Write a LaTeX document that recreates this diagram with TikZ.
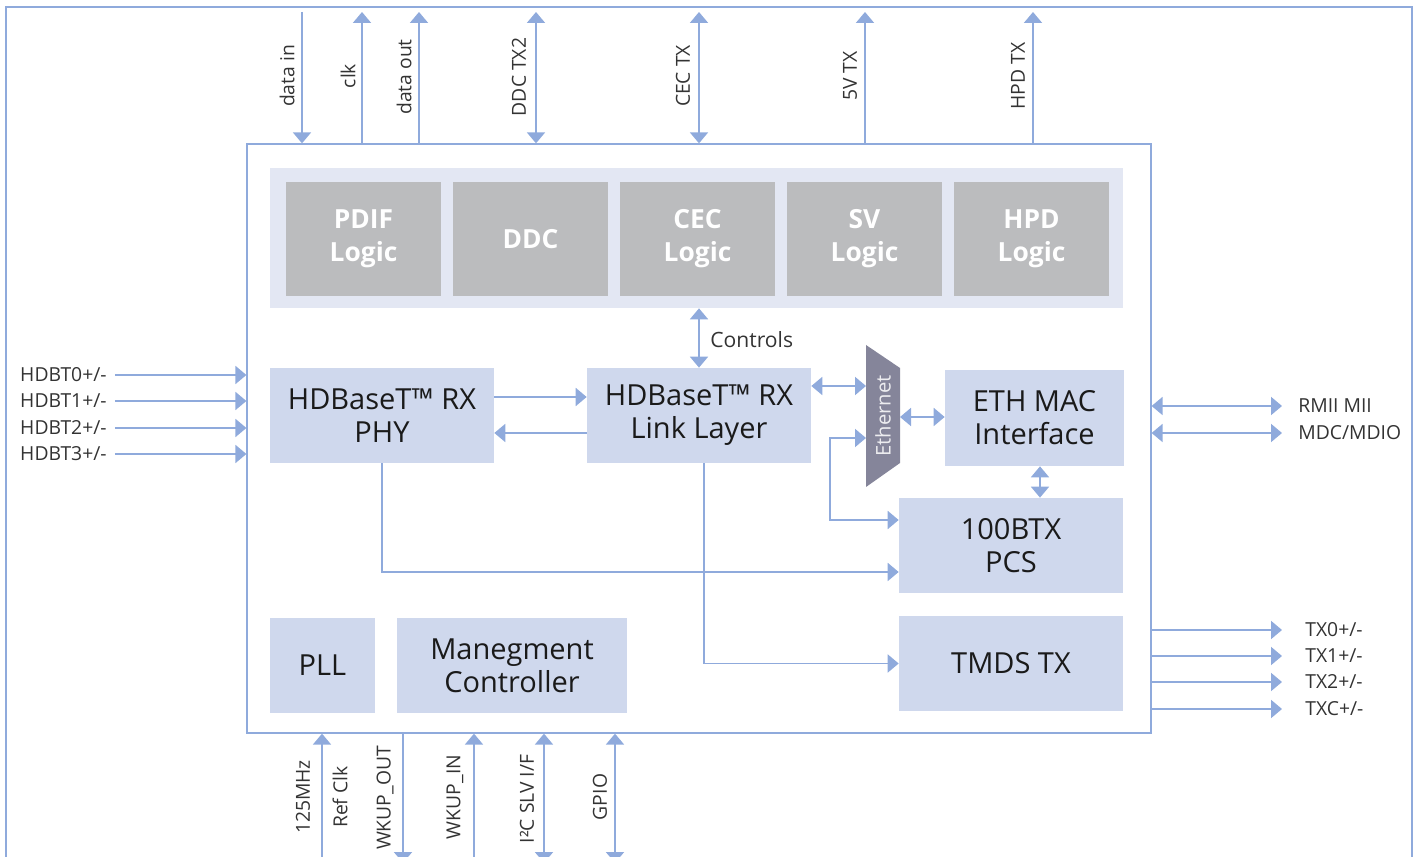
\documentclass[tikz,border=0pt]{standalone}
\usepackage{fontspec}
\setmainfont{Open Sans}
\usetikzlibrary{arrows.meta,calc}
\definecolor{ln}{HTML}{8FAADC}
\definecolor{bxf}{HTML}{CFD8ED}
\definecolor{pnl}{HTML}{E3E7F3}
\definecolor{gry}{HTML}{BBBCBE}
\definecolor{ethc}{HTML}{85859A}
\definecolor{txt}{HTML}{1A1A1A}
\definecolor{lbt}{HTML}{333333}
\tikzset{
 >={Triangle[width=0.36cm,length=0.22cm]},
 arr/.style={draw=ln, line width=1.1pt, ->},
 dbl/.style={draw=ln, line width=1.1pt, <->},
 blk/.style={fill=bxf, text=txt, align=center, inner sep=0, font=\fontsize{16.5}{18.8}\selectfont},
 gblk/.style={fill=gry, text=white, align=center, inner sep=0, minimum width=3.1cm, minimum height=2.28cm, font=\fontsize{15}{18.8}\selectfont\bfseries},
 lbl/.style={text=lbt, inner sep=0, font=\fontsize{11}{13}\selectfont},
}
\begin{document}
\begin{tikzpicture}[x=0.02cm,y=-0.02cm]
\useasboundingbox (0,0) rectangle (1417,857);
% outer frame
\draw[ln, line width=1.1pt] (6,870) -- (6,7) -- (1412,7) -- (1412,870);
% chip
\node[draw=ln, line width=0.8pt, inner sep=0, minimum width=18.08cm, minimum height=11.78cm] (chip) at (699,438.5) {};
% top panel
\node[fill=pnl, inner sep=0, minimum width=17.06cm, minimum height=2.8cm] (panel) at (696.5,238) {};
\node[gblk] (pdif) at (363.5,239) {PDIF\\Logic};
\node[gblk] (ddc) at (530.5,239) {DDC};
\node[gblk] (cec) at (697.5,239) {CEC\\Logic};
\node[gblk] (sv) at (864.5,239) {SV\\Logic};
\node[gblk] (hpd) at (1031.5,239) {HPD\\Logic};
% main blocks
\node[blk, minimum width=4.48cm, minimum height=1.9cm] (phy) at (382,415.5) {HDBaseT™ RX\\PHY};
\node[blk, minimum width=4.48cm, minimum height=1.9cm] (link) at (699,415.5) {HDBaseT™ RX\\Link Layer};
\node[blk, minimum width=3.58cm, minimum height=1.92cm] (mac) at (1034.5,418) {ETH MAC\\Interface};
\node[blk, minimum width=4.48cm, minimum height=1.9cm] (btx) at (1011,545.5) {100BTX\\PCS};
\node[blk, minimum width=4.48cm, minimum height=1.9cm] (tmds) at (1011,663.5) {TMDS TX};
\node[blk, minimum width=2.1cm, minimum height=1.9cm] (pll) at (322.5,665.5) {PLL};
\node[blk, minimum width=4.6cm, minimum height=1.9cm] (mgmt) at (512,665.5) {Manegment\\Controller};
% ethernet trapezoid
\fill[ethc] (866,345) -- (900,368) -- (900,463) -- (866,487) -- cycle;
\node[rotate=90, text=white!85!ethc, inner sep=0, font=\fontsize{11.5}{13}\selectfont] (ethl) at (883,416) {Ethernet};
\coordinate (ethL1) at (866,386);
\coordinate (ethL2) at (866,438);
\coordinate (ethR) at (900,417);
% internal connectors
\draw[dbl] (link.north) -- (link.north |- panel.south);
\node[lbl, anchor=west, font=\fontsize{12}{14}\selectfont] (ctl) at (710,340) {Controls};
\draw[arr] ([yshift=0.37cm]phy.east) -- ([yshift=0.37cm]link.west);
\draw[arr] ([yshift=-0.35cm]link.west) -- ([yshift=-0.35cm]phy.east);
\draw[dbl] (ethL1 -| link.east) -- (ethL1);
\draw[dbl] (ethR) -- (ethR -| mac.west);
\draw[dbl] (ethL2) -- ++(-36,0) |- ([yshift=0.51cm]btx.west);
\coordinate (macs) at ([xshift=0.11cm]mac.south);
\draw[dbl] (macs) -- (macs |- btx.north);
\draw[arr] (phy.south) |- ([yshift=-0.53cm]btx.west);
\coordinate (lks) at ([xshift=0.1cm]link.south);
\draw[arr] (lks) |- (tmds.west);
% left inputs
\node[lbl, anchor=east] (h0) at (107,375) {HDBT0+/-};
\node[lbl, anchor=east] (h1) at (107,401) {HDBT1+/-};
\node[lbl, anchor=east] (h2) at (107,428) {HDBT2+/-};
\node[lbl, anchor=east] (h3) at (107,454) {HDBT3+/-};
\foreach \n in {h0,h1,h2,h3}{\draw[arr] ([xshift=0.16cm]\n.east) -- (\n -| chip.west);}
% right side
\node[lbl, anchor=west] (r1) at (1298,406) {RMII MII};
\node[lbl, anchor=west] (r2) at (1298,433) {MDC/MDIO};
\foreach \n in {r1,r2}{\draw[dbl] (\n -| chip.east) -- ([xshift=-0.32cm]\n.west);}
\node[lbl, anchor=west] (t0) at (1305,630) {TX0+/-};
\node[lbl, anchor=west] (t1) at (1305,656) {TX1+/-};
\node[lbl, anchor=west] (t2) at (1305,682) {TX2+/-};
\node[lbl, anchor=west] (t3) at (1305,709) {TXC+/-};
\foreach \n in {t0,t1,t2,t3}{\draw[arr] (\n -| chip.east) -- ([xshift=-0.46cm]\n.west);}
% top signals
\coordinate (tdin) at (302,12);
\coordinate (tclk) at (362,12);
\coordinate (tdout) at (419,12);
\coordinate (tddc) at (536,12);
\coordinate (tcec) at (699,12);
\coordinate (tfv) at (865,12);
\coordinate (thpd) at (1033,12);
\draw[arr] (tdin) -- (tdin |- chip.north);
\draw[arr] (tclk |- chip.north) -- (tclk);
\draw[arr] (tdout |- chip.north) -- (tdout);
\draw[dbl] (tddc |- chip.north) -- (tddc);
\draw[dbl] (tcec |- chip.north) -- (tcec);
\draw[arr] (tfv |- chip.north) -- (tfv);
\draw[arr] (thpd |- chip.north) -- (thpd);
\node[lbl, rotate=90] (ldin) at (287,76) {data in};
\node[lbl, rotate=90] (lclk) at (348,76) {clk};
\node[lbl, rotate=90] (ldout) at (404,77) {data out};
\node[lbl, rotate=90] (lddc) at (519,77) {DDC TX2};
\node[lbl, rotate=90] (lcec) at (683,76) {CEC TX};
\node[lbl, rotate=90] (lfv) at (850,76) {5V TX};
\node[lbl, rotate=90] (lhpd) at (1018,76) {HPD TX};
% bottom signals
\coordinate (bref) at (322,863);
\coordinate (bwo) at (403,863);
\coordinate (bwi) at (474,863);
\coordinate (bi2c) at (544,863);
\coordinate (bgpio) at (615,863);
\draw[arr] (bref) -- (bref |- chip.south);
\draw[arr] (bwo |- chip.south) -- (bwo);
\draw[arr] (bwi) -- (bwi |- chip.south);
\draw[dbl] (bi2c |- chip.south) -- (bi2c);
\draw[dbl] (bgpio |- chip.south) -- (bgpio);
\node[lbl, rotate=90] (l125) at (303,797) {125MHz};
\node[lbl, rotate=90] (lref) at (340,797) {Ref Clk};
\node[lbl, rotate=90] (lwo) at (385,798) {WKUP\_OUT};
\node[lbl, rotate=90] (lwi) at (455,797) {WKUP\_IN};
\node[lbl, rotate=90] (li2c) at (527,799) {I²C SLV I/F};
\node[lbl, rotate=90] (lgpio) at (600,797) {GPIO};
\end{tikzpicture}
\end{document}
